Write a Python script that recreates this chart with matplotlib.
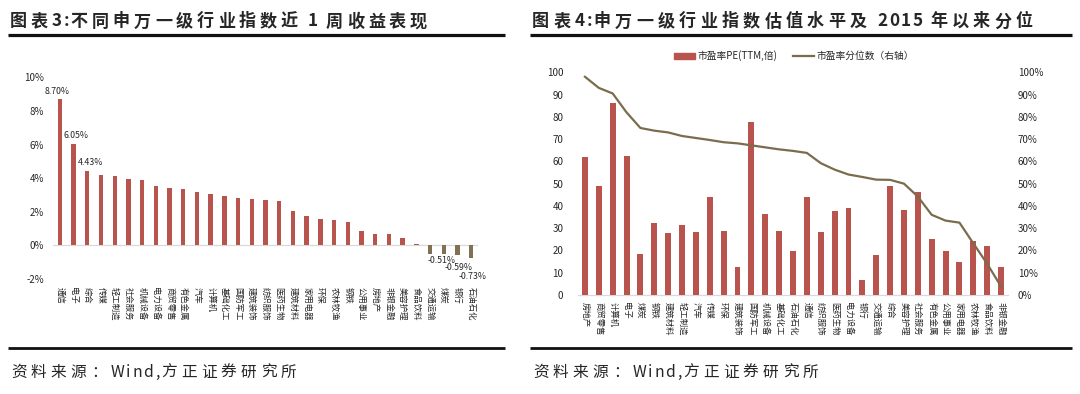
import matplotlib
matplotlib.use('Agg')
import matplotlib.pyplot as plt
from matplotlib.lines import Line2D
from matplotlib.patches import Patch
from matplotlib.ticker import FuncFormatter, MultipleLocator

plt.rcParams['font.family'] = ['Noto Sans CJK SC', 'DejaVu Sans']

# ---------------- data ----------------
title_left = "图表3:不同申万一级行业指数近 1 周收益表现"
title_right = "图表4:申万一级行业指数估值水平及 2015 年以来分位"
source_text = "资料来源：Wind,方正证券研究所"

ret_categories = ["通信", "电子", "综合", "传媒", "轻工制造", "社会服务", "机械设备", "电力设备",
                  "商贸零售", "有色金属", "汽车", "计算机", "基础化工", "国防军工", "建筑装饰",
                  "纺织服饰", "医药生物", "建筑材料", "家用电器", "环保", "农林牧渔", "钢铁",
                  "公用事业", "房地产", "非银金融", "美容护理", "食品饮料", "交通运输", "煤炭",
                  "银行", "石油石化"]
ret_values = [8.70, 6.05, 4.43, 4.21, 4.14, 3.92, 3.88, 3.56, 3.44, 3.34, 3.20, 3.04, 2.94,
              2.84, 2.78, 2.72, 2.62, 2.03, 1.75, 1.55, 1.53, 1.37, 0.87, 0.70, 0.66, 0.46,
              0.08, -0.49, -0.51, -0.59, -0.73]
ret_labelled = [0, 1, 2, 28, 29, 30]

pe_categories = ["房地产", "商贸零售", "计算机", "电子", "煤炭", "钢铁", "建筑材料", "轻工制造",
                 "汽车", "传媒", "环保", "建筑装饰", "国防军工", "机械设备", "基础化工", "石油石化",
                 "通信", "纺织服饰", "医药生物", "电力设备", "银行", "交通运输", "综合", "美容护理",
                 "社会服务", "有色金属", "公用事业", "家用电器", "农林牧渔", "食品饮料", "非银金融"]
pe_values = [62.0, 49.0, 86.0, 62.6, 18.4, 32.3, 28.0, 31.4, 28.1, 44.2, 28.9, 12.7, 77.5,
             36.2, 28.9, 19.8, 44.0, 28.1, 37.7, 38.9, 6.6, 18.1, 48.8, 38.2, 46.1, 25.0,
             19.8, 14.7, 24.1, 22.0, 12.6]
pe_pct = [98.0, 93.0, 90.5, 82.0, 75.0, 73.8, 73.0, 71.4, 70.5, 69.6, 68.6, 68.1, 67.2, 66.3,
          65.4, 64.7, 63.8, 59.2, 56.3, 54.1, 53.0, 51.8, 51.7, 50.0, 44.2, 36.0, 33.4, 32.5,
          23.2, 14.0, 3.8]
legend_labels = ["市盈率PE(TTM,倍)", "市盈率分位数（右轴）"]

# ---------------- style ----------------
RED = "#b9534d"
OLIVE = "#7f7152"
LINE = "#7b6c4d"
TXT = "#262626"
GRID0 = "#d9d9d9"

W, H = 1080, 394
fig = plt.figure(figsize=(W / 100, H / 100), dpi=100)
renderer = fig.canvas.get_renderer()


def px_axes(l, t, r, b):
    return fig.add_axes([l / W, 1 - b / H, (r - l) / W, (b - t) / H])


def spaced_text(x_px, y_px, s, size, track_px, space_px, **kw):
    x = x_px
    for ch in s:
        if ch == " ":
            x += space_px
            continue
        t = fig.text(x / W, 1 - y_px / H, ch, fontsize=size, va="baseline", ha="left",
                     color=TXT, **kw)
        w = t.get_window_extent(renderer).width
        x += w + (track_px if ord(ch) > 127 else track_px * 0.4)


def hline(x0, x1, y, lw):
    fig.add_artist(Line2D([x0 / W, x1 / W], [1 - y / H, 1 - y / H], lw=lw, color="#111111",
                          solid_capstyle="butt"))


# ---------------- left chart ----------------
ax1 = px_axes(53, 77.3, 478, 279)
x1 = list(range(len(ret_categories)))
cols = [RED if v >= 0 else OLIVE for v in ret_values]
ax1.bar(x1, ret_values, width=0.32, color=cols, zorder=3)
ax1.axhline(0, color=GRID0, lw=0.9, zorder=2)
ax1.set_xlim(-0.5, len(ret_categories) - 0.5)
ax1.set_ylim(-2, 10)
ax1.yaxis.set_major_locator(MultipleLocator(2))
ax1.yaxis.set_major_formatter(FuncFormatter(lambda v, p: f"{v:.0f}%"))
ax1.set_xticks(x1)
ax1.set_xticklabels(ret_categories, rotation=-90, fontsize=6, color=TXT)
ax1.tick_params(axis="x", length=0, pad=5.5)
ax1.tick_params(axis="y", length=0, pad=6.5, labelsize=7, labelcolor=TXT)
for s in ax1.spines.values():
    s.set_visible(False)

label_offsets = {0: (-2.5, 3.5), 1: (2.5, 3.5), 2: (3.5, 3.5),
                 28: (-2, -7), 29: (1.5, -12.5), 30: (1, -19)}
for i in ret_labelled:
    v = ret_values[i]
    dx, dy = label_offsets[i]
    ax1.annotate(f"{v:.2f}%", (i, v), xytext=(dx * 0.72, dy * 0.72),
                 textcoords="offset points", ha="center",
                 va="bottom" if v >= 0 else "center", fontsize=6.3, color=TXT)

# ---------------- right chart ----------------
ax2 = px_axes(578, 72.3, 1008, 295)
x2 = list(range(len(pe_categories)))
ax2.bar(x2, pe_values, width=0.43, color=RED, zorder=3)
ax2.set_xlim(-0.5, len(pe_categories) - 0.5)
ax2.set_ylim(0, 100)
ax2.yaxis.set_major_locator(MultipleLocator(10))
ax2.set_xticks(x2)
ax2.set_xticklabels(pe_categories, rotation=-90, fontsize=6, color=TXT)
ax2.tick_params(axis="x", length=0, pad=4.8)
ax2.tick_params(axis="y", length=0, pad=10.5, labelsize=7, labelcolor=TXT)
for k, s in ax2.spines.items():
    s.set_visible(k == "bottom")
ax2.spines["bottom"].set_color(GRID0)
ax2.spines["bottom"].set_linewidth(0.9)

ax3 = ax2.twinx()
ax3.plot(x2, pe_pct, color=LINE, lw=1.6, zorder=4)
ax3.set_ylim(0, 100)
ax3.yaxis.set_major_locator(MultipleLocator(10))
ax3.yaxis.set_major_formatter(FuncFormatter(lambda v, p: f"{v:.0f}%"))
ax3.tick_params(axis="y", length=0, pad=7.2, labelsize=7, labelcolor=TXT)
for s in ax3.spines.values():
    s.set_visible(False)

fig.legend(handles=[Patch(color=RED), Line2D([], [], color=LINE, lw=1.6)],
           labels=legend_labels, loc="center", bbox_to_anchor=(794 / W, 1 - 55.7 / H),
           ncol=2, frameon=False, fontsize=7, handlelength=2.2, handleheight=0.6,
           columnspacing=1.6, handletextpad=0.25, labelcolor=TXT)

# ---------------- titles, rules, sources ----------------
spaced_text(10, 26.5, title_left, 12.3, 3.9, 6, fontweight="bold")
spaced_text(532, 26.5, title_right, 12.3, 4.2, 6, fontweight="bold")
hline(8, 505, 34.5, 2.3)
hline(530, 1072, 34.5, 2.3)
hline(8, 505, 348, 2.0)
hline(530, 1072, 348, 2.0)
spaced_text(11, 377, source_text, 11.3, 4.2, 4, style="italic")
spaced_text(533, 377, source_text, 11.3, 4.2, 4, style="italic")

fig.savefig("out.png", dpi=100, facecolor="white")
